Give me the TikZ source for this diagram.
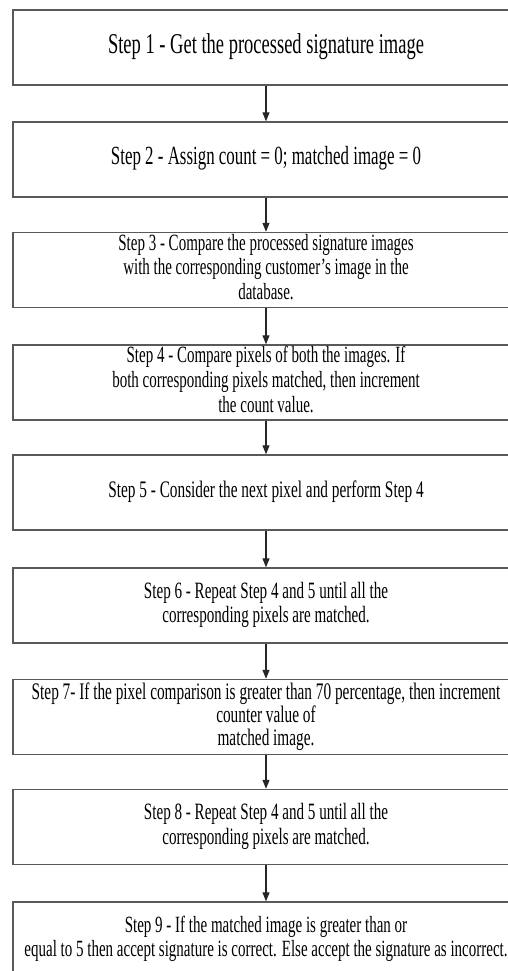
\documentclass[tikz,border=0pt]{standalone}
\usepackage{fontspec}
\setmainfont{Liberation Serif}
\usepackage{graphicx}
\usetikzlibrary{arrows.meta, positioning}
\definecolor{boxgray}{HTML}{595959}
\definecolor{arrowdark}{HTML}{262626}
\newcommand{\steptext}[1]{\scalebox{1}[1.55]{\begin{tabular}{@{}c@{}}#1\end{tabular}}}

\begin{document}
\begin{tikzpicture}[x=1pt, y=-1pt,
  stepbox/.style={draw=boxgray, line width=1.4pt, minimum width=506pt, minimum height=75pt, inner sep=0pt, align=center},
  flowarrow/.style={draw=arrowdark, line width=1.1pt, -{Triangle[length=9pt,width=7pt]}}]
  % Page frame
  \useasboundingbox (0,0) rectangle (507,971);

  % Steps of the matching procedure
  \node[stepbox, font=\fontsize{18.5}{18}\selectfont] (step1) at (266,47.5) {\steptext{Step 1 - Get the processed signature image}};
  \node[stepbox, font=\fontsize{16.9}{16.5}\selectfont] (step2) at (266,159.5) {\steptext{Step 2 - Assign count = 0; matched image = 0}};
  \node[stepbox, font=\fontsize{15}{16}\selectfont] (step3) at (266,270) {\steptext{Step 3 - Compare the processed signature images\\ with the corresponding customer's image in the\\ database.}};
  \node[stepbox, font=\fontsize{15}{16}\selectfont] (step4) at (266,382.5) {\steptext{Step 4 - Compare pixels of both the images. If\\ both corresponding pixels matched, then increment\\ the count value.}};
  \node[stepbox, font=\fontsize{15.3}{16}\selectfont] (step5) at (266,492.5) {\steptext{Step 5 - Consider the next pixel and perform Step 4}};
  \node[stepbox, font=\fontsize{15.1}{16}\selectfont] (step6) at (266,605.5) {\steptext{Step 6 - Repeat Step 4 and 5 until all the\\ corresponding pixels are matched.}};
  \node[stepbox, font=\fontsize{15.3}{14}\selectfont] (step7) at (266,717) {\steptext{Step 7- If the pixel comparison is greater than 70 percentage, then increment\\ counter value of\\ matched image.}};
  \node[stepbox, font=\fontsize{15.1}{16}\selectfont] (step8) at (266,827) {\steptext{Step 8 - Repeat Step 4 and 5 until all the\\ corresponding pixels are matched.}};
  \node[stepbox, font=\fontsize{15}{16}\selectfont] (step9) at (266,939.5) {\steptext{Step 9 - If the matched image is greater than or\\ equal to 5 then accept signature is correct. Else accept the signature as incorrect.}};

  % Connectors
  \foreach \a/\b in {step1/step2, step2/step3, step3/step4, step4/step5, step5/step6, step6/step7, step7/step8, step8/step9} {
    \draw[flowarrow] (\a) -- (\b);
  }
\end{tikzpicture}
\end{document}
